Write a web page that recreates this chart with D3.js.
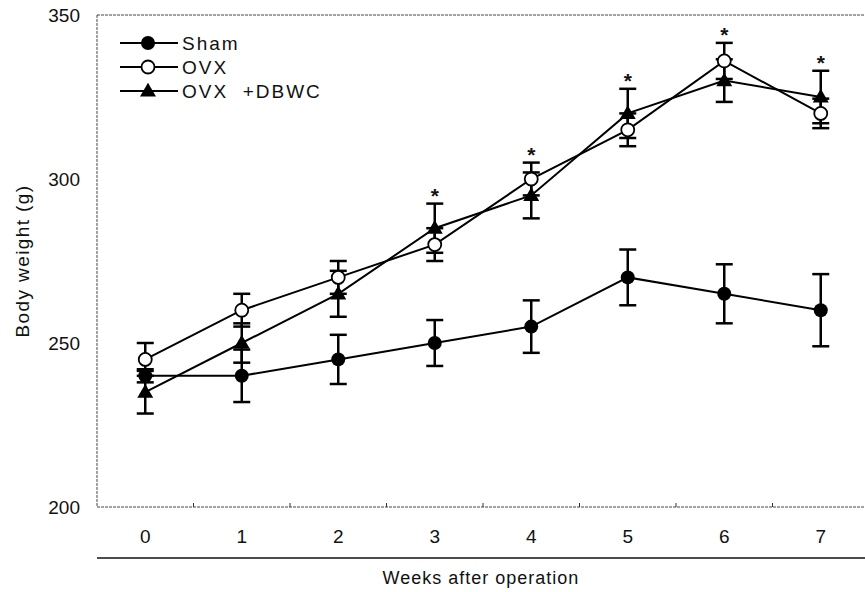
<!DOCTYPE html>
<html>
<head>
<meta charset="utf-8">
<script src="https://cdn.jsdelivr.net/npm/d3@7"></script>
<style>
	body { margin: 0; background: #fff; }
	text { font-family: Arial, "Liberation Sans", sans-serif; fill: #111; }
</style>
</head>
<body>
<div id="chart"></div>
<script>
var weeks = [0, 1, 2, 3, 4, 5, 6, 7];
var yTicks = [200, 250, 300, 350];
var seriesNames = ["Sham", "OVX", "OVX  +DBWC"];
var shamMean = [240, 240, 245, 250, 255, 270, 265, 260];
var shamSE = [2, 8, 7.5, 7, 8, 8.5, 9, 11];
var ovxMean = [245, 260, 270, 280, 300, 315, 336, 320];
var ovxSE = [5, 5, 5, 5, 5, 5, 5.5, 4.5];
var dbwcMean = [235, 250, 265, 285, 295, 320, 330, 325];
var dbwcSE = [6.5, 6, 7, 7.5, 7, 7.5, 6.5, 8];
var significant = [false, false, false, true, true, true, true, true];
var xTitle = "Weeks after operation";
var yTitle = "Body weight (g)";

var width = 865;
var height = 592;
var plotLeft = 97, plotTop = 15, plotBottom = 507, plotRight = 869;

var series = [
	{name: seriesNames[0], mean: shamMean, se: shamSE, shape: "dot"},
	{name: seriesNames[1], mean: ovxMean, se: ovxSE, shape: "open"},
	{name: seriesNames[2], mean: dbwcMean, se: dbwcSE, shape: "tri"}
];

var svg = d3.select("#chart").append("svg")
	.attr("width", width)
	.attr("height", height);

/* Scales */
var xScale = d3.scaleBand()
	.domain(weeks)
	.range([plotLeft, plotRight])
	.padding(0);

var yScale = d3.scaleLinear()
	.domain([200, 350])
	.range([plotBottom, plotTop]);

var cx = d => xScale(d) + xScale.bandwidth() / 2;

/* Frame (dotted like the scan) */
var frame = svg.append("g").attr("class", "frame")
	.style("stroke", "#444")
	.style("stroke-width", 1)
	.style("stroke-dasharray", "3,1");
frame.append("line").attr("x1", plotLeft).attr("x2", plotLeft).attr("y1", plotTop).attr("y2", plotBottom);
frame.append("line").attr("x1", plotLeft).attr("x2", width).attr("y1", plotTop).attr("y2", plotTop);
frame.append("line").attr("x1", plotLeft).attr("x2", width).attr("y1", plotBottom).attr("y2", plotBottom);

// small ticks between categories
svg.append("g")
	.selectAll("line")
	.data(weeks.slice(1)).enter()
	.append("line")
	.attr("x1", d => xScale(d))
	.attr("x2", d => xScale(d))
	.attr("y1", plotBottom)
	.attr("y2", plotBottom - 4)
	.style("stroke", "#333")
	.style("stroke-width", 1);

/* Axes */
var xAxis = d3.axisBottom(xScale).tickSize(0).tickPadding(23);
var yAxis = d3.axisLeft(yScale).tickValues(yTicks).tickSize(0).tickPadding(17);

var gx = svg.append("g")
	.attr("transform", `translate(0, ${plotBottom})`)
	.call(xAxis);
gx.select(".domain").remove();
gx.selectAll("text").style("font-size", "19px").style("font-family", "Arial, 'Liberation Sans', sans-serif").attr("fill", "#111");

var gy = svg.append("g")
	.attr("transform", `translate(${plotLeft}, 0)`)
	.call(yAxis);
gy.select(".domain").remove();
gy.selectAll("text").style("font-size", "19px").style("font-family", "Arial, 'Liberation Sans', sans-serif").attr("fill", "#111");

// line under the category labels
svg.append("line")
	.attr("x1", plotLeft).attr("x2", width)
	.attr("y1", 558).attr("y2", 558)
	.style("stroke", "#111")
	.style("stroke-width", 1.6);

svg.append("text")
	.attr("x", 481)
	.attr("y", 584)
	.attr("text-anchor", "middle")
	.style("font-size", "18px")
	.style("letter-spacing", "1px")
	.text(xTitle);

svg.append("text")
	.attr("transform", `translate(29, 261) rotate(-90)`)
	.attr("text-anchor", "middle")
	.style("font-size", "19px")
	.style("letter-spacing", "1.4px")
	.text(yTitle);

/* Error bars */
var capW = 8.5;
var bars = svg.append("g").attr("class", "errorbars")
	.style("stroke", "#000")
	.style("stroke-width", 2.5);

series.forEach(function(s) {
	weeks.forEach(function(w, i) {
		var x = cx(w);
		var y0 = yScale(s.mean[i] - s.se[i]);
		var y1 = yScale(s.mean[i] + s.se[i]);
		bars.append("line").attr("x1", x).attr("x2", x).attr("y1", y0).attr("y2", y1);
		bars.append("line").attr("x1", x - capW).attr("x2", x + capW).attr("y1", y0).attr("y2", y0);
		bars.append("line").attr("x1", x - capW).attr("x2", x + capW).attr("y1", y1).attr("y2", y1);
	});
});

/* Lines */
var line = d3.line()
	.x(d => cx(d.w))
	.y(d => yScale(d.v));

svg.append("g").selectAll("path")
	.data(series).enter()
	.append("path")
	.attr("d", s => line(weeks.map((w, i) => ({w: w, v: s.mean[i]}))))
	.style("fill", "none")
	.style("stroke", "#000")
	.style("stroke-width", 2);

/* Markers */
var triangle = d3.symbol().type(d3.symbolTriangle).size(110);

function drawMarker(g, shape, x, y) {
	if (shape === "dot") {
		g.append("circle").attr("cx", x).attr("cy", y).attr("r", 7).style("fill", "#000");
	} else if (shape === "open") {
		g.append("circle").attr("cx", x).attr("cy", y).attr("r", 6.5)
			.style("fill", "#fff").style("stroke", "#000").style("stroke-width", 1.8);
	} else {
		g.append("path").attr("d", triangle).attr("transform", `translate(${x}, ${y + 1})`).style("fill", "#000");
	}
}

var markers = svg.append("g").attr("class", "markers");
series.forEach(function(s) {
	weeks.forEach(function(w, i) {
		drawMarker(markers, s.shape, cx(w), yScale(s.mean[i]));
	});
});

/* Significance stars */
svg.append("g").selectAll("text")
	.data(weeks.filter((w, i) => significant[i])).enter()
	.append("text")
	.attr("x", d => cx(d))
	.attr("y", function(d) {
		var topBar = d3.min(series, s => yScale(s.mean[d] + s.se[d]));
		return topBar - 1;
	})
	.attr("text-anchor", "middle")
	.style("font-size", "21px")
	.style("font-weight", "bold")
	.text("*");

/* Legend */
var legend = svg.append("g").attr("class", "legend");
series.forEach(function(s, i) {
	var ly = 43 + i * 24;
	legend.append("line")
		.attr("x1", 120).attr("x2", 178)
		.attr("y1", ly).attr("y2", ly)
		.style("stroke", "#000")
		.style("stroke-width", 2);
	drawMarker(legend, s.shape, 148, ly);
	legend.append("text")
		.attr("x", 182)
		.attr("y", ly + 7)
		.style("font-size", "19px")
		.style("letter-spacing", "2px")
		.style("white-space", "pre")
		.attr("xml:space", "preserve")
		.text(s.name);
});
</script>
</body>
</html>
